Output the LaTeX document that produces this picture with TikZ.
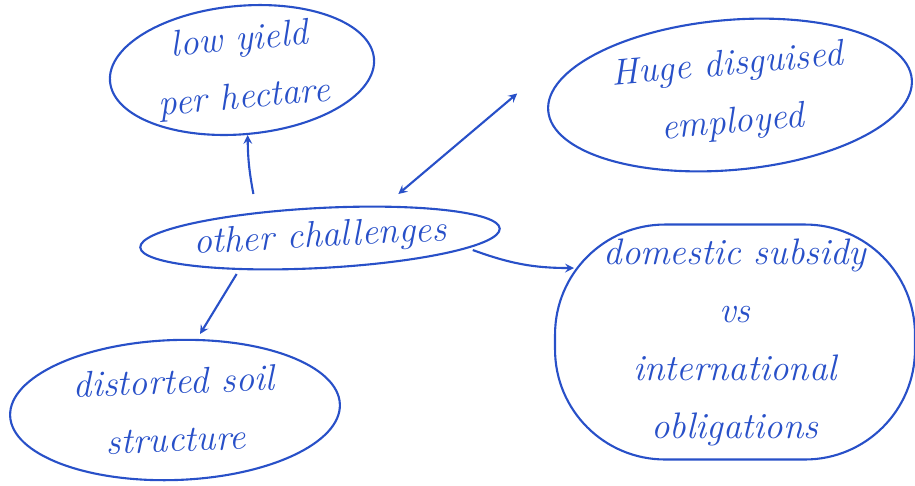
\documentclass[tikz,border=0pt]{standalone}
\usepackage{tikz}
\usetikzlibrary{shapes.geometric,arrows}
\definecolor{myblue}{RGB}{40,80,200}
\tikzstyle{bubble} = [ellipse,draw=myblue,line width=1.2pt,text=myblue,align=center,inner sep=0pt,font=\fontsize{21}{33}\selectfont\itshape]
\tikzstyle{arrow} = [myblue,line width=1.2pt,->,>=stealth]

\begin{document}
\begin{tikzpicture}[x=0.02cm,y=-0.02cm]
          \useasboundingbox (0,0) rectangle (915,485);
          % bubbles
          \node[bubble,minimum width=5.3cm,minimum height=2.2cm,rotate=5] (yield) at (242,70) {low yield\\per hectare};
          \node[bubble,minimum width=7.3cm,minimum height=3cm,rotate=5] (huge) at (730,95) {Huge disguised\\employed};
          \node[bubble,minimum width=7.2cm,minimum height=1.2cm,rotate=3] (chal) at (320,238) {other challenges};
          \node[bubble,rectangle,rounded corners=2.2cm,minimum width=7.2cm,minimum height=4.7cm] (subsidy) at (735,342) {domestic subsidy\\vs\\international\\obligations};
          \node[bubble,minimum width=6.6cm,minimum height=2.8cm,rotate=2] (soil) at (175,410) {distorted soil\\structure};
          % arrows
          \draw[arrow] ([xshift=-1.3cm,yshift=0.26cm]chal.north) to[bend left=5] (yield.south);
          \draw[arrow,<->] ([xshift=1.6cm,yshift=0.26cm]chal.north) -- ([xshift=-0.6cm,yshift=0.35cm]huge.west);
          \draw[arrow] ([xshift=-0.56cm,yshift=-0.43cm]chal.east) to[bend right=10] ([xshift=0.4cm,yshift=1.48cm]subsidy.west);
          \draw[arrow] ([xshift=-1.7cm,yshift=-0.1cm]chal.south) -- ([xshift=0.55cm,yshift=0.1cm]soil.north);
      \end{tikzpicture}
\end{document}
